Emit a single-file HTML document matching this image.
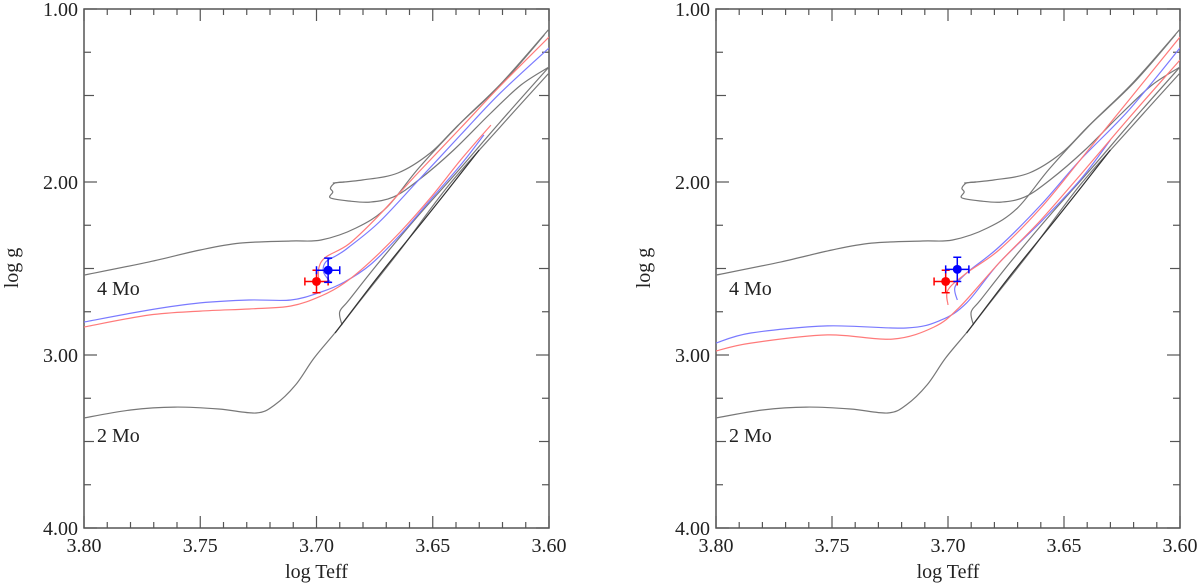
<!DOCTYPE html>
<html><head><meta charset="utf-8"><style>
body{margin:0;background:#fff;}
svg{display:block;font-family:"Liberation Serif",serif;}
</style></head><body>
<svg id="chart" width="1200" height="584" viewBox="0 0 1200 584"></svg>
<script>
const xTicks=[3.80,3.75,3.70,3.65,3.60];
const yTicks=[1.00,2.00,3.00,4.00];
// gray evolutionary tracks (logTeff, logg)
const grayA_T=[3.800,3.772,3.750,3.733,3.711,3.698,3.683,3.670,3.656,3.638,3.620,3.600];
const grayA_g=[2.538,2.462,2.393,2.353,2.341,2.335,2.266,2.150,1.919,1.659,1.422,1.116];
const grayB_T=[3.688,3.692,3.694,3.693,3.694,3.686,3.677,3.667,3.656,3.641,3.625,3.612,3.600];
const grayB_g=[2.000,2.006,2.035,2.058,2.092,2.110,2.116,2.087,1.988,1.815,1.601,1.439,1.335];
const grayB2_T=[3.693,3.680,3.665,3.651,3.639,3.620,3.602];
const grayB2_g=[2.006,1.988,1.948,1.832,1.671,1.428,1.150];
const grayC_T=[3.800,3.780,3.761,3.742,3.726,3.718,3.709,3.701,3.691,3.681,3.664,3.643,3.621,3.600];
const grayC_g=[3.364,3.318,3.301,3.312,3.335,3.289,3.173,3.017,2.855,2.682,2.393,2.017,1.682,1.370];
const grayD_T=[3.689,3.690,3.686,3.673,3.656,3.638,3.621,3.600];
const grayD_g=[2.827,2.751,2.682,2.462,2.191,1.919,1.653,1.335];
const blackE_T=[3.692,3.673,3.651,3.630];
const blackE_g=[2.873,2.538,2.173,1.815];
// left panel colored tracks
const blue1L_T=[3.800,3.772,3.750,3.729,3.711,3.698,3.688,3.677,3.664,3.651,3.638,3.628];
const blue1L_g=[2.809,2.740,2.699,2.682,2.682,2.636,2.578,2.480,2.306,2.104,1.902,1.728];
const blue2L_T=[3.694,3.697,3.696,3.691,3.686,3.673,3.656,3.638,3.621,3.600];
const blue2L_g=[2.578,2.520,2.462,2.422,2.376,2.231,1.988,1.728,1.486,1.225];
const red1L_T=[3.800,3.772,3.750,3.729,3.711,3.698,3.688,3.677,3.664,3.651,3.638,3.625];
const red1L_g=[2.838,2.769,2.746,2.734,2.717,2.659,2.584,2.462,2.289,2.092,1.873,1.671];
const red2L_T=[3.699,3.699,3.696,3.686,3.673,3.656,3.638,3.621,3.600];
const red2L_g=[2.578,2.497,2.434,2.358,2.191,1.942,1.688,1.445,1.162];
// right panel colored tracks
const blue1R_T=[3.800,3.785,3.752,3.718,3.703,3.692,3.678,3.660,3.643,3.630];
const blue1R_g=[2.931,2.873,2.832,2.844,2.798,2.699,2.468,2.231,1.988,1.757];
const blue2R_T=[3.696,3.697,3.692,3.678,3.660,3.643,3.622,3.600];
const blue2R_g=[2.682,2.607,2.526,2.376,2.133,1.873,1.584,1.225];
const red1R_T=[3.800,3.785,3.752,3.724,3.706,3.695,3.678,3.660,3.643,3.622,3.600];
const red1R_g=[2.977,2.931,2.884,2.908,2.838,2.723,2.468,2.220,1.960,1.630,1.295];
const red2R_T=[3.700,3.700,3.692,3.678,3.660,3.643,3.622,3.600];
const red2R_g=[2.711,2.624,2.526,2.393,2.150,1.873,1.526,1.162];
// observed stars [T, g, errT, errg]
const starRedL=[3.700,2.575,0.005,0.065];
const starBlueL=[3.695,2.510,0.005,0.070];
const starRedR=[3.701,2.575,0.005,0.065];
const starBlueR=[3.696,2.505,0.005,0.070];

const NS="http://www.w3.org/2000/svg";
const svg=document.getElementById('chart');
function mk(tag,attrs,parent){const e=document.createElementNS(NS,tag);for(const k in attrs)e.setAttribute(k,attrs[k]);(parent||svg).appendChild(e);return e;}
function smooth(pts){
  let d='M'+pts[0][0].toFixed(1)+','+pts[0][1].toFixed(1);
  for(let i=0;i<pts.length-1;i++){
    const p0=pts[Math.max(i-1,0)],p1=pts[i],p2=pts[i+1],p3=pts[Math.min(i+2,pts.length-1)];
    const c1=[p1[0]+(p2[0]-p0[0])/6,p1[1]+(p2[1]-p0[1])/6];
    const c2=[p2[0]-(p3[0]-p1[0])/6,p2[1]-(p3[1]-p1[1])/6];
    d+='C'+c1.map(v=>v.toFixed(1)).join(',')+' '+c2.map(v=>v.toFixed(1)).join(',')+' '+p2[0].toFixed(1)+','+p2[1].toFixed(1);
  }
  return d;
}

function panel(x0,x1,name,tracks,stars){
  const y0=9,y1=528;
  const g=mk('g',{});
  
  
  const sx=t=>x0+(3.80-t)/0.20*(x1-x0);
  const sy=v=>y0+(v-1)/3*(y1-y0);
  const clip='clip-'+name;
  const cp=mk('clipPath',{id:clip},g);mk('rect',{x:x0,y:y0,width:x1-x0,height:y1-y0},cp);
  const frame=mk('rect',{x:x0,y:y0,width:x1-x0,height:y1-y0,fill:'none',stroke:'#555','stroke-width':1.5},g);
  
  
  for(let i=0;i<=20;i++){const t=3.80-i*0.01;const x=sx(t);const L=(i%5===0)?12:6;
    mk('line',{x1:x,y1:y1,x2:x,y2:y1-L,stroke:'#555','stroke-width':1.2},g);
    mk('line',{x1:x,y1:y0,x2:x,y2:y0+L,stroke:'#555','stroke-width':1.2},g);}
  for(let i=0;i<=12;i++){const v=1+i*0.25;const y=sy(v);const L=(i%4===0)?13:(i%2===0?10:7);
    mk('line',{x1:x0,y1:y,x2:x0+L,y2:y,stroke:'#555','stroke-width':1.2},g);
    mk('line',{x1:x1,y1:y,x2:x1-L,y2:y,stroke:'#555','stroke-width':1.2},g);}
  xTicks.forEach(t=>{const tx=mk('text',{x:sx(t),y:552,'text-anchor':'middle','font-size':20,fill:'#222'},g);tx.textContent=t.toFixed(2);
    
    });
  yTicks.forEach(v=>{const tx=mk('text',{x:x0-6,y:sy(v)+7,'text-anchor':'end','font-size':20,fill:'#222'},g);tx.textContent=v.toFixed(2);
    
    });
  const xl=mk('text',{x:(x0+x1)/2,y:578,'text-anchor':'middle','font-size':20,fill:'#222'},g);xl.textContent='log Teff';
  
  
  const yl=mk('text',{x:0,y:0,'text-anchor':'middle','font-size':20,fill:'#222',transform:`translate(${x0-66},268) rotate(-90)`},g);yl.textContent='log g';
  
  
  const l4=mk('text',{x:x0+13,y:295,'font-size':20,fill:'#222'},g);l4.textContent='4 Mo';
  
  
  const l2=mk('text',{x:x0+13,y:442,'font-size':20,fill:'#222'},g);l2.textContent='2 Mo';
  
  
  const cg=mk('g',{'clip-path':`url(#${clip})`},g);
  tracks.forEach(tr=>{
    const pts=tr.T.map((t,i)=>[sx(t),sy(tr.g[i])]);
    const p=mk('path',{d:smooth(pts),fill:'none',stroke:tr.c,'stroke-width':tr.w||1.2,'stroke-linejoin':'round'},cg);
    
    
  });
  stars.forEach(s=>{
    const sg=mk('g',{stroke:s.c,'stroke-width':1.5,fill:s.c},g);
    
    
    const [t,v,et,ev]=s.d;const cx=sx(t),cy=sy(v);
    const xa=sx(t+et),xb=sx(t-et),ya=sy(v-ev),yb=sy(v+ev);
    mk('line',{x1:xa,y1:cy,x2:xb,y2:cy},sg);mk('line',{x1:cx,y1:ya,x2:cx,y2:yb},sg);
    mk('line',{x1:xa,y1:cy-4,x2:xa,y2:cy+4},sg);mk('line',{x1:xb,y1:cy-4,x2:xb,y2:cy+4},sg);
    mk('line',{x1:cx-4,y1:ya,x2:cx+4,y2:ya},sg);mk('line',{x1:cx-4,y1:yb,x2:cx+4,y2:yb},sg);
    mk('circle',{cx:cx,cy:cy,r:4.5,stroke:'none'},sg);
  });
}
const grayTracks=[
 {T:grayA_T,g:grayA_g,c:'#777',n:'track-4msun'},
 {T:grayB_T,g:grayB_g,c:'#777',n:'track-4msun-loop'},
 {T:grayB2_T,g:grayB2_g,c:'#777',n:'track-4msun-loop-upper'},
 {T:grayC_T,g:grayC_g,c:'#777',n:'track-2msun'},
 {T:grayD_T,g:grayD_g,c:'#777',n:'track-2msun-hook'},
 {T:blackE_T,g:blackE_g,c:'#333',n:'track-2msun-dark'}];
panel(84,549,'left-panel',grayTracks.concat([
 {T:blue1L_T,g:blue1L_g,c:'#7a7aff',n:'blue-track'},
 {T:blue2L_T,g:blue2L_g,c:'#7a7aff',n:'blue-track-loop'},
 {T:red1L_T,g:red1L_g,c:'#ff7a7a',n:'red-track'},
 {T:red2L_T,g:red2L_g,c:'#ff7a7a',n:'red-track-loop'}]),
 [{d:starRedL,c:'#f00',n:'red-star-point'},{d:starBlueL,c:'#00f',n:'blue-star-point'}]);
panel(716,1180,'right-panel',grayTracks.concat([
 {T:blue1R_T,g:blue1R_g,c:'#7a7aff',n:'blue-track'},
 {T:blue2R_T,g:blue2R_g,c:'#7a7aff',n:'blue-track-loop'},
 {T:red1R_T,g:red1R_g,c:'#ff7a7a',n:'red-track'},
 {T:red2R_T,g:red2R_g,c:'#ff7a7a',n:'red-track-loop'}]),
 [{d:starRedR,c:'#f00',n:'red-star-point'},{d:starBlueR,c:'#00f',n:'blue-star-point'}]);
</script>
</body></html>
